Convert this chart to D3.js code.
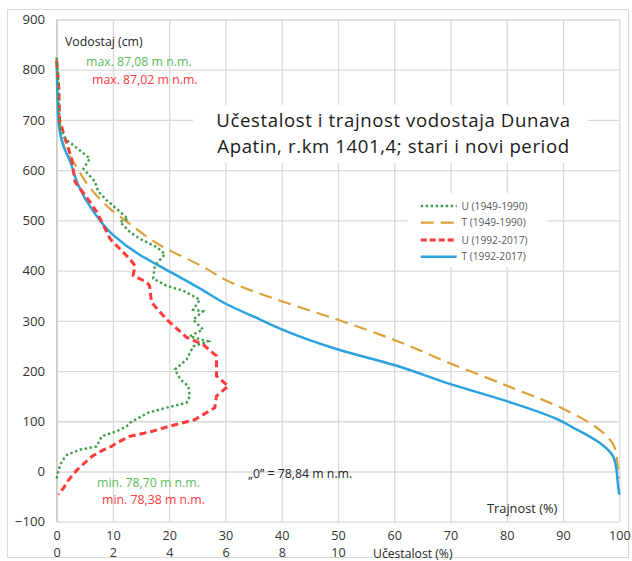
<!DOCTYPE html>
<html>
<head>
<meta charset="utf-8">
<script src="https://cdn.jsdelivr.net/npm/d3@7"></script>
<style>
  body { margin: 0; background: #fff; }
  text { font-family: "Open Sans", Lato, sans-serif; }
</style>
</head>
<body>
<svg id="chart" width="632" height="561"></svg>
<script>
// water level (cm) vs duration / frequency
var levelTOld = [824, 760, 700, 650, 617, 557, 523, 493, 451, 404, 382, 339, 302, 262, 215, 171, 125, 83, 47, 3, -14];
var trajOld   = [0, 0.2, 0.5, 1.2, 2.95, 6.5, 9.5, 13, 18.3, 26.6, 29.9, 40, 50, 60, 70, 80, 90, 96.5, 99.2, 99.8, 100];

var levelTNew = [818, 760, 700, 648, 617, 571, 518, 471, 431, 409, 364, 333, 303, 283, 243, 212, 174, 140, 104, 88, 57, 30, 3, -20, -46];
var trajNew   = [0, 0.1, 0.3, 1.2, 2.4, 3.8, 6.5, 10, 14.8, 18.3, 25.5, 30.2, 36.1, 40, 50, 60, 70, 80, 89, 91.7, 96.5, 98.9, 99.5, 99.7, 100];

var levelUOld = [824, 780, 720, 683, 663, 623, 603, 577, 557, 540, 503, 497, 477, 463, 447, 433, 410, 384, 370, 360, 342, 322, 319, 302, 283, 269, 259, 249, 223, 203, 183, 170, 150, 137, 127, 117, 97, 90, 80, 70, 50, 43, 33, 20, 0, -14];
var ucesOld   = [0, 0.05, 0.08, 0.12, 0.3, 1.18, 0.95, 1.36, 1.48, 1.78, 2.54, 2.25, 2.6, 2.96, 3.55, 3.85, 3.49, 3.43, 3.9, 4.5, 5.09, 4.85, 5.2, 4.85, 5.2, 4.73, 5.38, 4.85, 4.62, 4.2, 4.4, 4.68, 4.73, 4.62, 3.9, 3.25, 2.6, 2.49, 2.13, 1.6, 1.42, 0.8, 0.36, 0.18, 0.05, 0];

var levelUNew = [818, 760, 700, 663, 623, 577, 537, 517, 463, 423, 410, 390, 377, 370, 337, 303, 267, 253, 230, 190, 170, 150, 127, 103, 90, 80, 70, 57, 50, 43, 30, 3, -17, -33, -46];
var ucesNew   = [0, 0.08, 0.1, 0.3, 0.53, 0.65, 1.18, 1.42, 1.9, 2.6, 2.78, 2.72, 3.2, 3.3, 3.37, 3.9, 4.62, 5.2, 5.68, 5.68, 6.1, 5.68, 5.62, 4.9, 4.0, 3.4, 2.6, 2.13, 1.95, 1.66, 1.25, 0.72, 0.42, 0.24, 0.06];

var yTicks = [-100, 0, 100, 200, 300, 400, 500, 600, 700, 800, 900];
var xTicks = [0, 10, 20, 30, 40, 50, 60, 70, 80, 90, 100];
var uTicks = [0, 2, 4, 6, 8, 10];

var legendLabels = ['U (1949-1990)', 'T (1949-1990)', 'U (1992-2017)', 'T (1992-2017)'];
var colors = {uOld: '#3f9c48', tOld: '#dba23a', uNew: '#ff3a3a', tNew: '#2aa3de'};

var svg = d3.select('#chart');

// outer frame
svg.append('rect')
    .attr('x', 7.5).attr('y', 9.5)
    .attr('width', 621).attr('height', 548)
    .attr('fill', '#fff')
    .attr('stroke', '#d9d9d9');

var plot = {l: 56.7, r: 619.3, t: 19.5, b: 521.7};

var x = d3.scaleLinear().domain([0, 100]).range([plot.l, plot.r]);
var xU = d3.scaleLinear().domain([0, 20]).range([plot.l, plot.r]);
var y = d3.scaleLinear().domain([-100, 900]).range([plot.b, plot.t]);

// horizontal grid + y labels
var yAxis = svg.append('g')
    .attr('transform', 'translate(' + plot.l + ',0)')
    .call(d3.axisLeft(y).tickValues(yTicks).tickSizeInner(-(plot.r - plot.l)).tickSizeOuter(0).tickPadding(11.7));
yAxis.select('.domain').remove();
yAxis.selectAll('line').attr('stroke', '#d9d9d9').attr('stroke-width', 1.3);
yAxis.selectAll('text').attr('font-size', 13.2).attr('fill', '#333').attr('font-family', 'Open Sans');

// vertical grid + trajnost labels
var xAxis = svg.append('g')
    .attr('transform', 'translate(0,' + plot.b + ')')
    .call(d3.axisBottom(x).tickValues(xTicks).tickSizeInner(-(plot.b - plot.t)).tickSizeOuter(0).tickPadding(9.8));
xAxis.select('.domain').remove();
xAxis.selectAll('line').attr('stroke', '#d9d9d9').attr('stroke-width', 1.3);
xAxis.selectAll('text').attr('font-size', 12.6).attr('fill', '#333').attr('font-family', 'Open Sans');

// second row: ucestalost
var uAxis = svg.append('g')
    .attr('transform', 'translate(0,' + plot.b + ')')
    .call(d3.axisBottom(xU).tickValues(uTicks).tickSize(0).tickPadding(26.8));
uAxis.select('.domain').remove();
uAxis.selectAll('text').attr('font-size', 12.6).attr('fill', '#333').attr('font-family', 'Open Sans');

// left axis line a bit darker
svg.append('line')
    .attr('x1', plot.l).attr('x2', plot.l)
    .attr('y1', plot.t).attr('y2', plot.b)
    .attr('stroke', '#c8c8c8').attr('stroke-width', 1.3);

// white boxes behind title and legend
svg.append('rect').attr('x', 193).attr('y', 105).attr('width', 395).attr('height', 58).attr('fill', '#fff');
svg.append('rect').attr('x', 408).attr('y', 193).attr('width', 139).attr('height', 74).attr('fill', '#fff');

function pairs(xs, ys) {
    return xs.map(function(v, i) { return [v, ys[i]]; });
}

var tLine = d3.line()
    .x(function(d) { return x(d[0]); })
    .y(function(d) { return y(d[1]); })
    .curve(d3.curveMonotoneY);

var uLine = d3.line()
    .x(function(d) { return xU(d[0]); })
    .y(function(d) { return y(d[1]); });

svg.append('path')
    .datum(pairs(trajOld, levelTOld))
    .attr('d', tLine)
    .attr('fill', 'none')
    .attr('stroke', colors.tOld)
    .attr('stroke-width', 2.2)
    .attr('stroke-dasharray', '13,7');

svg.append('path')
    .datum(pairs(trajNew, levelTNew))
    .attr('d', tLine)
    .attr('fill', 'none')
    .attr('stroke', colors.tNew)
    .attr('stroke-width', 2.5);

svg.append('path')
    .datum(pairs(ucesNew, levelUNew))
    .attr('d', uLine)
    .attr('fill', 'none')
    .attr('stroke', colors.uNew)
    .attr('stroke-width', 3)
    .attr('stroke-dasharray', '7,4');

svg.append('path')
    .datum(pairs(ucesOld, levelUOld))
    .attr('d', uLine)
    .attr('fill', 'none')
    .attr('stroke', colors.uOld)
    .attr('stroke-width', 2.4)
    .attr('stroke-dasharray', '2.4,2.6');

// title (two separate lines)
svg.append('text')
    .attr('x', 393.5).attr('y', 127)
    .attr('text-anchor', 'middle')
    .attr('font-size', 18.6)
    .attr('letter-spacing', 0.6)
    .attr('fill', '#1a1a1a')
    .text('Učestalost i trajnost vodostaja Dunava');
svg.append('text')
    .attr('x', 393.5).attr('y', 152.5)
    .attr('text-anchor', 'middle')
    .attr('font-size', 18.6)
    .attr('letter-spacing', 0.6)
    .attr('fill', '#1a1a1a')
    .text('Apatin, r.km 1401,4; stari i novi period');

// legend
var legendStyles = [
    {c: colors.uOld, w: 2.4, dash: '2.4,2.6'},
    {c: colors.tOld, w: 2.2, dash: '13,7'},
    {c: colors.uNew, w: 3, dash: '6,3'},
    {c: colors.tNew, w: 2.5, dash: null}
];
var legendY = [206, 222.7, 240, 256.7];
var legend = svg.append('g');
legendLabels.forEach(function(lbl, i) {
    var s = legendStyles[i];
    legend.append('line')
        .attr('x1', 420.7).attr('x2', 456.7)
        .attr('y1', legendY[i]).attr('y2', legendY[i])
        .attr('stroke', s.c).attr('stroke-width', s.w)
        .attr('stroke-dasharray', s.dash);
    legend.append('text')
        .attr('x', 461.5).attr('y', legendY[i] + 3.7)
        .attr('font-size', 10.2)
        .attr('fill', '#595959')
        .text(lbl);
});

// annotations
function label(txt, px, py, col, fs) {
    svg.append('text')
        .attr('x', px).attr('y', py)
        .attr('font-size', fs || 12.3)
        .attr('fill', col)
        .text(txt);
}
label('Vodostaj (cm)', 65, 46, '#262626');
label('max. 87,08 m n.m.', 86, 65.5, '#5cbd5c');
label('max. 87,02 m n.m.', 92, 83.5, '#ff3a3a');
label('min. 78,70 m n.m.', 97, 487, '#5cbd5c');
label('min. 78,38 m n.m.', 102, 503.7, '#ff3a3a');
label('\u201E0\u201D = 78,84 m n.m.', 248, 477.7, '#262626');
label('Trajnost (%)', 487, 512.5, '#262626', 12.8);
label('Učestalost (%)', 373, 557.5, '#262626', 12.2);
</script>
</body>
</html>
